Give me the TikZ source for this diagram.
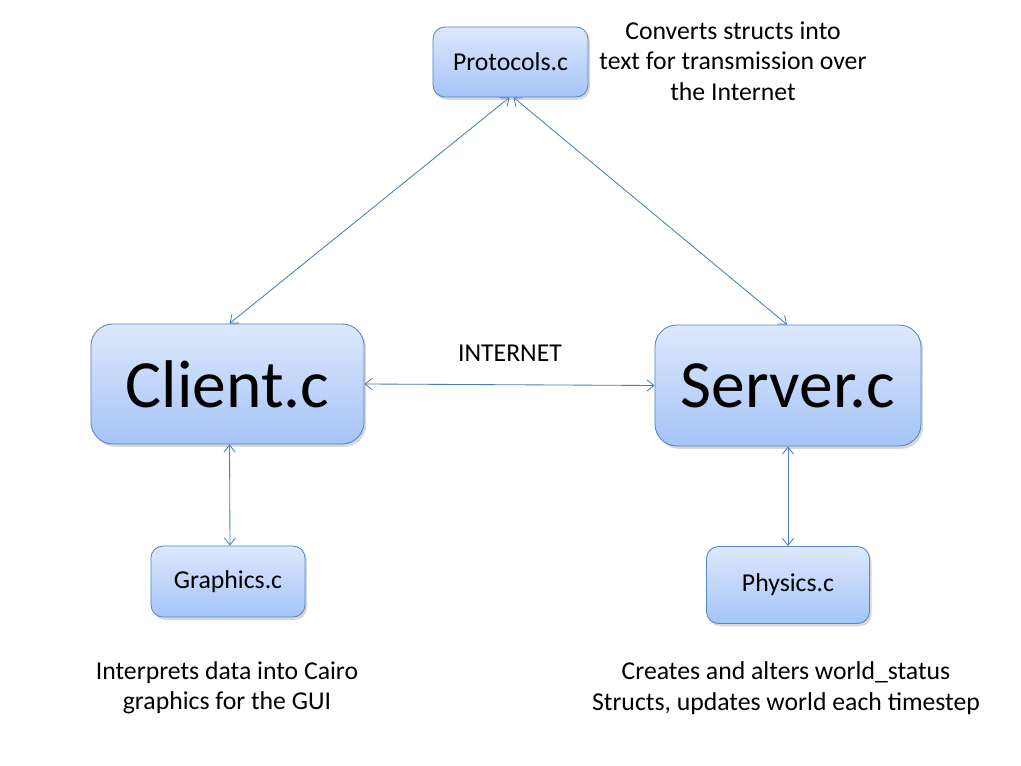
\documentclass[tikz,border=0pt]{standalone}
\usepackage{fontspec}
\setmainfont{Carlito}
\usepackage{tikz}
\usetikzlibrary{arrows.meta,shadows,calc}

\definecolor{boxtop}{HTML}{DDE8FC}
\definecolor{boxbot}{HTML}{A5C4F8}
\definecolor{boxline}{HTML}{5585C4}
\definecolor{linkblue}{HTML}{4A7EBB}

\tikzset{
  module/.style={draw=boxline, line width=0.6pt, top color=boxtop, bottom color=boxbot,
    rounded corners=0.3cm, align=center, inner sep=0pt,
    drop shadow={shadow xshift=1.5pt, shadow yshift=-2pt, opacity=0.25, fill=black!60}},
  bigmodule/.style={module, rounded corners=0.55cm, font=\fontsize{48}{58}\selectfont},
  smallmodule/.style={module, font=\fontsize{18.3}{22}\selectfont},
  note/.style={align=center, font=\fontsize{18.3}{21.7}\selectfont},
  link/.style={draw=linkblue, line width=0.6pt, {Straight Barb[length=5pt,width=8pt]}-{Straight Barb[length=5pt,width=8pt]}}
}

\begin{document}
\begin{tikzpicture}[x=0.025cm, y=-0.025cm]

% Page
\fill[white] (0,0) rectangle (1021,766);
\useasboundingbox (0,0) rectangle (1021,766);

% Modules
\node[smallmodule, minimum width=3.875cm, minimum height=1.75cm] (proto) at (510.5,62) {Protocols.c};
\node[bigmodule, minimum width=6.825cm, minimum height=3cm] (client) at (227.5,384) {Client.c};
\node[bigmodule, minimum width=6.65cm, minimum height=3.025cm] (server) at (788,385.5) {Server.c};
\node[smallmodule, minimum width=3.85cm, minimum height=1.775cm] (graphics) at (228,581.5) {Graphics.c};
\node[smallmodule, minimum width=4.075cm, minimum height=1.925cm] (physics) at (788,585) {Physics.c};

% Notes
\node[note] (protonote) at (733,61) {Converts structs into\\text for transmission over\\the Internet};
\node[note] (net) at (510,353) {INTERNET};
\node[note] (graphicsnote) at (227,688) {Interprets data into Cairo\\graphics for the GUI};
\node[note] (physicsnote) at (786,688) {Creates and alters world\_status\\Structs, updates world each timestep};

% Links
\draw[link] ($(proto.south)+(-1,0)$) -- ($(client.north)+(2,0)$);
\draw[link] ($(proto.south)+(3,0)$) -- ($(server.north)+(-1,0)$);
\draw[link] (client.east) -- (server.west);
\draw[link] ($(client.south)+(2,0)$) -- ($(graphics.north)+(2,0)$);
\draw[link] (server.south) -- (physics.north);

\end{tikzpicture}
\end{document}
